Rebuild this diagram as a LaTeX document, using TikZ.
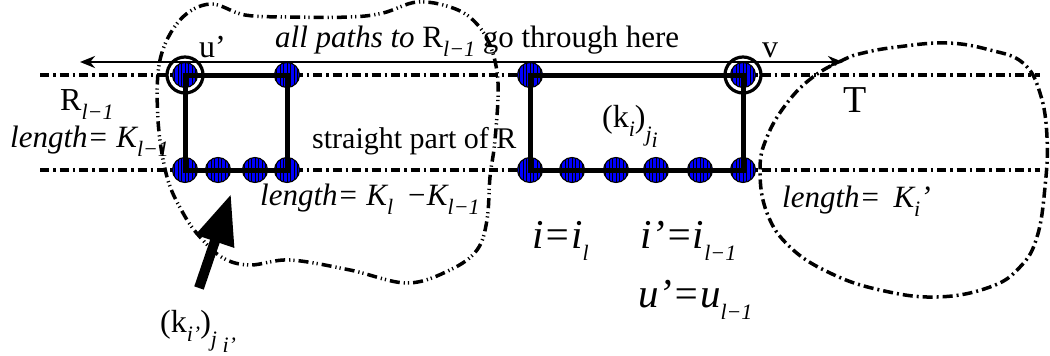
\documentclass[tikz,border=0pt]{standalone}
\usepackage{fontspec}
\setmainfont{Liberation Serif}
\usetikzlibrary{arrows.meta}
\newcommand{\lsub}[1]{\raisebox{-0.3em}{\fontsize{22}{22}\selectfont\itshape #1}}
\begin{document}
\begin{tikzpicture}[x=1pt,y=-1pt,
 dot/.style={circle,draw=black,line width=1.1pt,fill=blue,minimum size=25pt,inner sep=0pt,
   path picture={\foreach \s in {-10.5,-7,...,11}{\draw[line width=0.9pt] ([xshift=\s pt]path picture bounding box.north) -- ([xshift=\s pt]path picture bounding box.south);}}},
 ring/.style={circle,draw,line width=3.2pt,minimum size=36pt,inner sep=0pt},
 edge/.style={line width=5pt},
 track/.style={line width=3.3pt,dash pattern=on 9pt off 4pt on 2.5pt off 4pt},
 blobA/.style={line width=3.5pt,dash pattern=on 10pt off 4pt on 1.2pt off 3pt on 1.2pt off 4pt},
 blobB/.style={line width=3.5pt,dash pattern=on 10pt off 4pt on 2pt off 4pt},
 lab/.style={inner sep=0pt,anchor=base west,font=\fontsize{30}{32}\selectfont}
]
\useasboundingbox (0,0) rectangle (1050,356);
% tracks
\coordinate (tl) at (40,75); \coordinate (tr) at (1040,75);
\coordinate (bl) at (40,170); \coordinate (br) at (1040,170);
\draw[track] (tl) -- (tr);
\draw[track] (bl) -- (br);
% blobs
\draw[blobA] plot[smooth cycle,tension=0.6] coordinates {(160,60) (180,20) (210,4) (245,15) (290,17) (350,17) (383,13) (417,2) (450,7) (473,20) (490,45) (498,83) (495,140) (490,177) (487,220) (477,250) (450,270) (407,283) (350,270) (290,260) (250,265) (223,258) (200,237) (183,213) (167,177) (158,120)};
\draw[blobB] plot[smooth cycle,tension=0.7] coordinates {(843,60) (813,77) (787,103) (767,137) (760,170) (767,213) (790,247) (830,273) (880,290) (937,297) (990,287) (1020,267) (1037,237) (1045,187) (1047,137) (1040,93) (1023,63) (990,50) (947,43) (897,47) (863,53)};
% top arrow
\coordinate (al) at (80,62); \coordinate (ar) at (843,62);
\draw[line width=2.8pt,{Stealth[length=15pt,width=12pt]}-{Stealth[length=15pt,width=12pt]}] (al) -- (ar);
% nodes
\node[dot] (t1) at (185,75) {};
\node[dot] (t2) at (287,75) {};
\node[dot] (t3) at (530,75) {};
\node[dot] (t4) at (743,75) {};
\node[dot] (lb1) at (185,170) {};
\node[dot] (lb2) at (218,170) {};
\node[dot] (lb3) at (255,170) {};
\node[dot] (lb4) at (287,170) {};
\node[dot] (rb1) at (530,170) {};
\node[dot] (rb2) at (572,170) {};
\node[dot] (rb3) at (616,170) {};
\node[dot] (rb4) at (656,170) {};
\node[dot] (rb5) at (700,170) {};
\node[dot] (rb6) at (743,170) {};
\node[ring] (ru) at (t1) {};
\node[ring] (rv) at (t4) {};
% rectangles
\draw[edge] (t1.center) -- (t2.center) -- (lb4.center) -- (lb1.center) -- cycle;
\draw[edge] (t3.center) -- (t4.center) -- (rb6.center) -- (rb1.center) -- cycle;
% big arrow
\coordinate (bt) at (199,288); \coordinate (bh) at (231,194);
\draw[line width=10pt,-{Triangle[length=50pt,width=38pt]}] (bt) -- (bh);
% labels
\node[lab,font=\fontsize{32}{34}\selectfont] (lu) at (199,57) {u’};
\node[lab,font=\fontsize{32}{34}\selectfont] (lv) at (762,57) {v};
\node[lab,font=\fontsize{31}{33}\selectfont] (lall) at (275,47) {\itshape all paths to \upshape R\lsub{l−1} go through here};
\node[lab,font=\fontsize{32}{34}\selectfont] (lR) at (60,110) {R\lsub{l−1}};
\node[lab,font=\fontsize{31}{33}\selectfont] (lK1) at (10,147) {\itshape length= K\lsub{l−1}};
\node[lab] (lsp) at (312,148) {straight part of R};
\node[lab,font=\fontsize{32}{34}\selectfont] (lkj) at (602,127) {(k\lsub{i})\lsub{\raisebox{-0.2em}{j\lsub{i}}}};
\node[lab,font=\fontsize{38}{40}\selectfont] (lT) at (843,112) {T};
\node[lab,font=\fontsize{31}{33}\selectfont] (lK2) at (260,205) {\itshape length= K\lsub{l} \,−K\lsub{l−1}};
\node[lab,font=\fontsize{31}{33}\selectfont] (lK3) at (782,207) {\itshape length= \,K\lsub{i}’};
\node[lab,font=\fontsize{41}{43}\selectfont\itshape] (li) at (532,248) {i=i\lsub{l}};
\node[lab,font=\fontsize{41}{43}\selectfont\itshape] (li2) at (640,248) {i’=i\lsub{l−1}};
\node[lab,font=\fontsize{41}{43}\selectfont\itshape] (lu2) at (638,307) {u’=u\lsub{l−1}};
\node[lab,font=\fontsize{32}{34}\selectfont] (lkj2) at (160,332) {(k\lsub{i’})\lsub{\raisebox{-0.2em}{j \lsub{i’}}}};
\end{tikzpicture}
\end{document}
